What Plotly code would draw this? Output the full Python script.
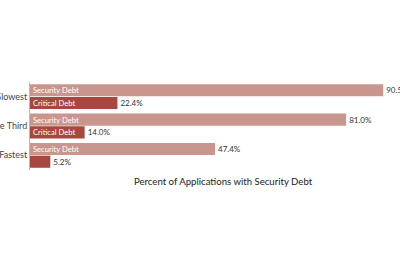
import plotly.graph_objects as go

categories = ["Slowest", "Middle Third", "Fastest"]
security_debt = [90.5, 81.0, 47.4]
critical_debt = [22.4, 14.0, 5.2]
series_names = ["Security Debt", "Critical Debt"]
colors = ["#c9968d", "#a8473f"]
x_title = "Percent of Applications with Security Debt"

fig = go.Figure()
for name, vals, col in zip(series_names, [security_debt, critical_debt], colors):
    fig.add_trace(go.Bar(
        y=categories, x=vals, orientation="h", name=name, offsetgroup=name,
        marker=dict(color=col, line=dict(width=0)),
        text=[f"{v:.1f}%" for v in vals], textposition="outside",
        textfont=dict(family="Lato", size=8, color="#333"),
        constraintext="none", cliponaxis=True,
    ))
    fig.add_trace(go.Bar(
        y=categories, x=vals, orientation="h", name=name + " label", offsetgroup=name,
        marker=dict(color="rgba(0,0,0,0)", line=dict(width=0)),
        text=[name if v > 10 else "" for v in vals], textposition="inside",
        insidetextanchor="start", constraintext="none",
        textfont=dict(family="Lato", size=7.6, color="white"),
        hoverinfo="skip",
    ))

fig.update_layout(
    width=400, height=266,
    margin=dict(l=30, r=0, t=82, b=96),
    barmode="group", bargap=0.13, bargroupgap=0.05,
    showlegend=False,
    plot_bgcolor="white", paper_bgcolor="white",
    font=dict(family="Lato", color="#333"),
    annotations=[dict(
        text=x_title, xref="paper", yref="paper", x=0.523, y=0, yshift=-11,
        xanchor="center", yanchor="middle", showarrow=False,
        font=dict(family="Lato", size=9.6, color="#222"),
    )],
)
fig.update_xaxes(
    range=[0, 94.8], showgrid=False, zeroline=False, showticklabels=False,
    showline=False, automargin=False,
)
fig.update_yaxes(
    categoryorder="array", categoryarray=categories, autorange="reversed",
    showgrid=False, zeroline=False, showline=True, linecolor="#bbb", linewidth=1,
    ticks="", tickfont=dict(family="Lato", size=9, color="#444"), automargin=False,
)
fig.write_html("out.html")
